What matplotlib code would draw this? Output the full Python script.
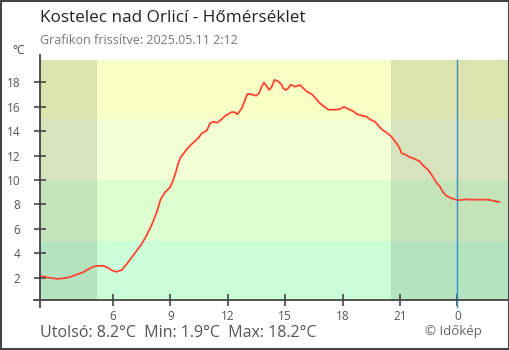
import matplotlib
matplotlib.use("Agg")
import matplotlib.pyplot as plt
from matplotlib.patches import Rectangle

plt.rcParams['font.family'] = ['Open Sans', 'DejaVu Sans']

# idopontok (ora, 24 felett mar masnap) es homerseklet
hours = [2.2, 2.4, 2.62, 2.88, 3.14, 3.4, 3.75, 4.1, 4.45, 4.71, 4.97, 5.23, 5.49,
         5.75, 5.93, 6.19, 6.46, 6.72, 6.98, 7.24, 7.5, 7.76, 8.02, 8.28, 8.49, 8.72,
         8.98, 9.15, 9.29, 9.41, 9.54, 9.76, 9.94, 10.2, 10.46, 10.64, 10.9, 11.07,
         11.24, 11.45, 11.68, 11.85, 12.21, 12.38, 12.5, 12.73, 12.9, 13.02, 13.25,
         13.48, 13.65, 13.77, 13.89, 14.0, 14.16, 14.3, 14.44, 14.64, 14.82, 14.9,
         15.04, 15.16, 15.29, 15.51, 15.78, 15.95, 16.16, 16.39, 16.61, 16.82, 17.0,
         17.26, 17.61, 17.87, 18.08, 18.3, 18.56, 18.77, 19.0, 19.26, 19.43, 19.7,
         19.87, 20.1, 20.31, 20.52, 20.74, 20.97, 21.09, 21.26, 21.53, 21.79, 22.05,
         22.22, 22.48, 22.66, 22.88, 23.09, 23.27, 23.44, 23.71, 23.97, 24.23, 24.4,
         24.66, 25.18, 25.62, 25.88, 26.2]
temps = [2.1, 2.1, 2.0, 1.95, 1.9, 1.95, 2.05, 2.25, 2.45, 2.7, 2.9, 2.97, 2.97,
         2.8, 2.6, 2.48, 2.63, 3.12, 3.67, 4.21, 4.76, 5.47, 6.31, 7.32, 8.42, 8.99,
         9.4, 10.0, 10.68, 11.37, 11.86, 12.32, 12.68, 13.06, 13.44, 13.82, 14.04, 14.64,
         14.77, 14.69, 14.97, 15.24, 15.57, 15.54, 15.38, 15.87, 16.55, 17.04, 17.02,
         16.9, 17.15, 17.64, 17.97, 17.78, 17.37, 17.64, 18.2, 18.08, 17.78, 17.51,
         17.37, 17.51, 17.81, 17.64, 17.78, 17.51, 17.21, 17.04, 16.66, 16.28, 16.06,
         15.76, 15.76, 15.81, 16.0, 15.81, 15.63, 15.38, 15.27, 15.18, 14.97, 14.77,
         14.45, 14.08, 13.88, 13.6, 13.18, 12.65, 12.19, 12.1, 11.86, 11.72, 11.5,
         11.17, 10.82, 10.41, 9.86, 9.45, 8.96, 8.69, 8.5, 8.36, 8.36, 8.42,
         8.39, 8.39, 8.39, 8.3, 8.2]

tick_hours = [6, 9, 12, 15, 18, 21, 24]
tick_labels = ["6", "9", "12", "15", "18", "21", "0"]
y_ticks = [2, 4, 6, 8, 10, 12, 14, 16, 18]

# homerseklet savok es szinek
band_edges = [0, 5, 10, 15, 20]
band_colors = ["#cbffd8", "#ddffcf", "#f2ffd5", "#f7ffc4"]

# ejszaka (naplemente - napkelte)
nights = [(2.2, 5.15), (20.53, 26.7)]

last_t, min_t, max_t = temps[-1], min(temps), max(temps)

fig = plt.figure(figsize=(5.1, 3.5), dpi=100)
fig.patch.set_facecolor("white")
ax = fig.add_axes([40.3 / 510, 50 / 350, 468.7 / 510, 240 / 350])

for i in range(len(band_colors)):
    ax.axhspan(band_edges[i], band_edges[i + 1], color=band_colors[i], lw=0, zorder=0)
for a, b in nights:
    ax.axvspan(a, b, color="black", alpha=0.11, lw=0, zorder=1)

ax.plot(hours, temps, color="#ff4433", lw=1.3, zorder=3)
ax.axvline(24, ymin=-0.028, ymax=1, color="#3a8fc7", lw=1, clip_on=False, zorder=4)

ax.set_xlim(2.2, 26.7)
ax.set_ylim(0.17, 19.83)

for s in ax.spines.values():
    s.set_visible(False)
ax.plot([0, 0], [-0.028, 1.021], transform=ax.transAxes, color="#444444", lw=1.3, clip_on=False, zorder=5)
ax.plot([-0.0134, 1], [0, 0], transform=ax.transAxes, color="#444444", lw=1.3, clip_on=False, zorder=5)

ax.set_xticks(tick_hours)
ax.set_xticklabels(tick_labels)
ax.set_yticks(y_ticks)
ax.tick_params(axis="both", direction="inout", length=9, width=1.2, color="#444444",
               labelcolor="#555555", labelsize=8.5)
ax.tick_params(axis="y", pad=10)
ax.tick_params(axis="x", pad=3)

fig.text(40 / 510, 1 - 18 / 350, "Kostelec nad Orlicí - Hőmérséklet", fontsize=12.3,
         color="#222222", va="center", ha="left")
fig.text(40 / 510, 1 - 41 / 350, "Grafikon frissítve: 2025.05.11 2:12", fontsize=9,
         color="#777777", va="center", ha="left")
fig.text(12 / 510, 1 - 50 / 350, "°C", fontsize=8.5, color="#444444", va="center", ha="left")
fig.text(40 / 510, 1 - 333 / 350,
         f"Utolsó: {last_t:.1f}°C  Min: {min_t:.1f}°C  Max: {max_t:.1f}°C",
         fontsize=11.5, color="#555555", va="center", ha="left")
fig.text(482 / 510, 1 - 332 / 350, "© Időkép", fontsize=9.5, color="#666666",
         va="center", ha="right")

fig.patches.append(Rectangle((0.001, 0.002), 0.997, 0.996, transform=fig.transFigure,
                             fill=False, edgecolor="#444444", lw=1.5))

fig.savefig("out.png", dpi=100)
